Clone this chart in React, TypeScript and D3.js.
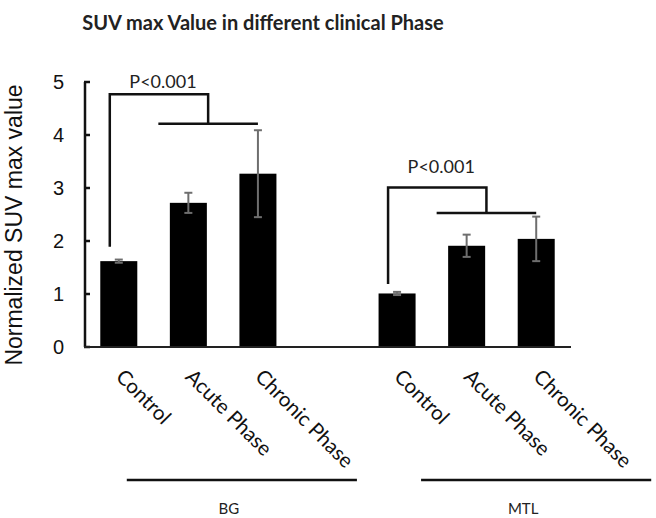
import React from "react";
import * as d3 from "d3";

const regions = ["BG", "MTL"];
const phases = ["Control", "Acute Phase", "Chronic Phase"];
const bgMeans = [1.62, 2.72, 3.27];
const bgErrors = [0.03, 0.19, 0.82];
const mtlMeans = [1.01, 1.91, 2.04];
const mtlErrors = [0.03, 0.21, 0.42];
const yTicks = [0, 1, 2, 3, 4, 5];
const pLabels = ["P<0.001", "P<0.001"];
// significance bracket levels (data units)
const bracketStart = [1.89, 1.19];
const bracketTop = [4.77, 3.01];
const bracketLower = [4.21, 2.53];
const labelLevel = [4.89, 3.28];

const W = 656;
const H = 518;

export default function App() {
  const slots = [
    ...phases.map((p) => "BG|" + p),
    "gap",
    ...phases.map((p) => "MTL|" + p),
  ];
  const x = d3
    .scaleBand<string>()
    .domain(slots)
    .range([84, 571])
    .paddingInner(0.468)
    .paddingOuter(0.234);
  const y = d3.scaleLinear().domain([0, 5]).range([347, 82]);
  const bw = x.bandwidth();
  const cx = (k: string) => (x(k) as number) + bw / 2;

  const groups = regions.map((r, gi) => ({
    region: r,
    bars: phases.map((p, i) => ({
      key: r + "|" + p,
      phase: p,
      mean: gi === 0 ? bgMeans[i] : mtlMeans[i],
      err: gi === 0 ? bgErrors[i] : mtlErrors[i],
    })),
  }));

  const lineStartOff = [8, 24];
  const lineEndOff = [99, 115];
  const labelFont = "Lato, 'Open Sans', sans-serif";

  return (
    <svg
      width={W}
      height={H}
      style={{ position: "absolute", left: 0, top: 0, background: "#fff" }}
    >
      <rect x={0} y={0} width={W} height={H} fill="#fff" />
      <text
        x={263}
        y={30}
        textAnchor="middle"
        fontFamily={labelFont}
        fontSize={20}
        fontWeight={700}
        fill="#222"
      >
        SUV max Value in different clinical Phase
      </text>

      {/* Y axis title */}
      <text
        transform={`translate(22,225) rotate(-90)`}
        textAnchor="middle"
        fontFamily="'Liberation Sans', Arial, sans-serif"
        fontSize={23}
        fill="#111"
      >
        Normalized SUV max value
      </text>

      {/* Y axis */}
      <line x1={85} x2={85} y1={y(5)} y2={y(0)} stroke="#111" strokeWidth={2.5} />
      {yTicks.map((t) => (
        <g key={t}>
          <line x1={84} x2={90} y1={y(t)} y2={y(t)} stroke="#111" strokeWidth={2.5} />
          <text
            x={64}
            y={y(t)}
            dy="0.36em"
            textAnchor="end"
            fontFamily="'Liberation Sans', Arial, sans-serif"
            fontSize={20}
            fill="#111"
          >
            {t}
          </text>
        </g>
      ))}

      {/* Bars */}
      {groups.map((g) =>
        g.bars.map((b) => (
          <rect
            key={b.key}
            x={x(b.key)}
            y={y(b.mean)}
            width={bw}
            height={y(0) - y(b.mean)}
            fill="#000"
          />
        ))
      )}

      {/* Baseline */}
      <line x1={84} x2={571} y1={y(0)} y2={y(0)} stroke="#222" strokeWidth={2} />

      {/* Error bars */}
      {groups.map((g) =>
        g.bars.map((b) => {
          const c = cx(b.key);
          return (
            <g key={"e" + b.key} stroke="#6e6e6e" strokeWidth={2}>
              <line x1={c} x2={c} y1={y(b.mean + b.err)} y2={y(b.mean - b.err)} />
              <line x1={c - 4} x2={c + 4} y1={y(b.mean + b.err)} y2={y(b.mean + b.err)} />
              <line x1={c - 4} x2={c + 4} y1={y(b.mean - b.err)} y2={y(b.mean - b.err)} />
            </g>
          );
        })
      )}

      {/* Significance brackets */}
      {groups.map((g, gi) => {
        const c0 = cx(g.bars[0].key) - 9;
        const lx1 = cx(g.bars[1].key) - 30;
        const lx2 = cx(g.bars[2].key);
        const mid = (lx1 + lx2) / 2;
        return (
          <g key={"br" + gi}>
            <path
              d={`M${c0},${y(bracketStart[gi])} V${y(bracketTop[gi])} H${mid} V${y(bracketLower[gi])}`}
              fill="none"
              stroke="#111"
              strokeWidth={2.5}
            />
            <line
              x1={lx1}
              x2={lx2}
              y1={y(bracketLower[gi])}
              y2={y(bracketLower[gi])}
              stroke="#111"
              strokeWidth={2.5}
            />
            <text
              x={(c0 + mid) / 2 + 4}
              y={y(labelLevel[gi])}
              textAnchor="middle"
              fontFamily={labelFont}
              fontSize={18}
              fill="#222"
            >
              {pLabels[gi]}
            </text>
          </g>
        );
      })}

      {/* Category labels */}
      {groups.map((g) =>
        g.bars.map((b) => (
          <text
            key={"t" + b.key}
            transform={`translate(${cx(b.key) - 4},378) rotate(45)`}
            textAnchor="start"
            fontFamily={labelFont}
            fontSize={20.5}
            fill="#111"
          >
            {b.phase}
          </text>
        ))
      )}

      {/* Group lines and labels */}
      {groups.map((g, gi) => {
        const x1 = cx(g.bars[0].key) + lineStartOff[gi];
        const x2 = cx(g.bars[2].key) + lineEndOff[gi];
        return (
          <g key={"g" + gi}>
            <line x1={x1} x2={x2} y1={480} y2={480} stroke="#111" strokeWidth={2.5} />
            <text
              x={(x1 + x2) / 2 - 13}
              y={514}
              textAnchor="middle"
              fontFamily={labelFont}
              fontSize={15}
              fill="#222"
            >
              {g.region}
            </text>
          </g>
        );
      })}
    </svg>
  );
}
